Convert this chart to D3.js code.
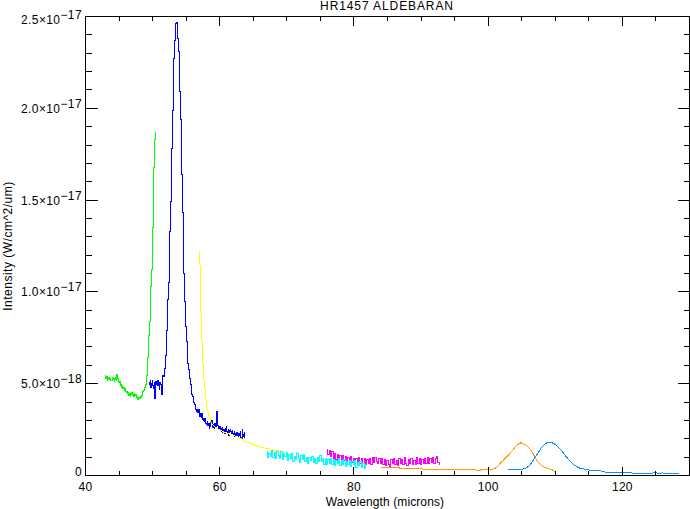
<!DOCTYPE html>
<html>
<head>
<meta charset="utf-8">
<script src="https://cdn.jsdelivr.net/npm/d3@7"></script>
<style>
  html, body { margin: 0; padding: 0; background: #fff; }
  svg { display: block; }
  text { font-family: "Liberation Sans", Arial, sans-serif; font-size: 12px; fill: #000; }
</style>
</head>
<body>
<svg id="chart" width="690" height="509"></svg>
<script>
// ---- data (wavelength in microns, intensity in units of 1e-18 W/cm^2/um) ----
const UNIT = 1e-18;
const title = "HR1457  ALDEBARAN";
const xTitle = "Wavelength (microns)";
const yTitle = "Intensity (W/cm^2/um)";

const xMajorTicks = [40, 60, 80, 100, 120];
const xMinorTicks = [45, 50, 55, 65, 70, 75, 85, 90, 95, 105, 110, 115, 125];
const yMajorTicks = [0, 5, 10, 15, 20, 25];
const yMajorLabels = [["0", ""], ["5.0\u00d710", "\u221218"], ["1.0\u00d710", "\u221217"], ["1.5\u00d710", "\u221217"], ["2.0\u00d710", "\u221217"], ["2.5\u00d710", "\u221217"]];
const yMinorTicks = [1,2,3,4,6,7,8,9,11,12,13,14,16,17,18,19,21,22,23,24];

const seriesColors = ["#00ff00", "#0000ff", "#ffff00", "#ff00ff", "#00ffff", "#0096ff", "#ff9c00"];
const seriesStepped = [true, true, false, true, true, false, false];

const green = [[42.9,5.30],[43.0,5.42],[43.1,5.28],[43.2,5.41],[43.3,5.20],[43.4,5.25],[43.5,5.36],[43.6,5.22],[43.7,5.31],[43.8,5.15],[43.9,5.19],[44.0,5.33],[44.1,5.22],[44.2,5.28],[44.3,5.12],[44.4,5.25],[44.5,5.34],[44.6,5.18],[44.7,5.48],[44.8,5.30],[44.9,5.22],[45.0,5.05],[45.1,5.10],[45.2,4.92],[45.3,4.97],[45.4,4.82],[45.5,4.90],[45.6,4.74],[45.7,4.78],[45.8,4.65],[45.9,4.72],[46.0,4.60],[46.1,4.52],[46.2,4.58],[46.3,4.45],[46.4,4.50],[46.5,4.38],[46.6,4.46],[46.7,4.33],[46.8,4.40],[46.9,4.52],[47.0,4.35],[47.1,4.42],[47.2,4.30],[47.3,4.45],[47.4,4.38],[47.5,4.43],[47.6,4.25],[47.7,4.30],[47.8,4.16],[47.9,4.20],[48.0,4.27],[48.1,4.18],[48.2,4.30],[48.3,4.25],[48.4,4.36],[48.5,4.45],[48.6,4.55],[48.7,4.62],[48.8,4.72],[48.9,4.82],[49.0,4.98],[49.1,5.18],[49.2,5.45],[49.25,5.75],[49.35,6.4],[49.5,7.6],[49.6,8.4],[49.7,9.3],[49.8,10.3],[49.9,11.2],[50.0,12.6],[50.05,13.5],[50.1,14.7],[50.15,15.7],[50.22,16.8],[50.3,18.0],[50.4,18.3],[50.5,18.7]];

const blue = [[49.55,5.08],[49.6,4.95],[49.7,5.15],[49.8,4.80],[49.9,5.02],[50.0,5.18],[50.1,4.88],[50.2,4.72],[50.3,5.05],[50.4,4.18],[50.45,4.85],[50.55,5.10],[50.65,4.95],[50.75,4.88],[50.85,5.15],[50.95,4.92],[51.05,4.70],[51.15,5.05],[51.25,4.98],[51.35,4.40],[51.45,5.30],[51.55,5.45],[51.65,5.38],[51.75,5.60],[51.85,5.85],[51.95,6.2],[52.02,6.55],[52.1,7.9],[52.2,8.9],[52.3,9.6],[52.4,10.5],[52.5,11.9],[52.6,13.3],[52.7,14.9],[52.8,16.3],[52.9,17.8],[53.0,19.9],[53.1,21.4],[53.2,22.7],[53.3,23.7],[53.4,24.2],[53.5,24.6],[53.6,24.7],[53.7,24.6],[53.8,23.8],[53.9,23.1],[54.0,22.3],[54.1,20.9],[54.2,19.4],[54.3,17.9],[54.4,16.4],[54.5,14.3],[54.6,12.6],[54.7,11.0],[54.8,9.5],[54.9,8.7],[55.0,8.1],[55.1,7.3],[55.2,6.6],[55.3,6.1],[55.4,5.8],[55.5,5.4],[55.6,5.3],[55.7,4.95],[55.8,4.7],[55.9,4.4],[56.0,4.3],[56.1,4.1],[56.2,3.95],[56.3,3.85],[56.4,3.70],[56.5,3.62],[56.6,3.50],[56.7,3.58],[56.8,3.45],[56.9,3.62],[57.0,3.30],[57.1,3.22],[57.2,3.40],[57.3,3.18],[57.4,3.35],[57.5,3.05],[57.6,2.98],[57.7,3.12],[57.8,2.95],[57.9,3.10],[58.0,2.85],[58.1,2.78],[58.2,2.95],[58.3,2.70],[58.4,2.82],[58.5,2.55],[58.6,2.66],[58.7,2.90],[58.8,3.02],[58.9,2.70],[59.0,2.62],[59.1,2.80],[59.2,2.58],[59.3,2.85],[59.4,2.60],[59.5,2.75],[59.6,3.48],[59.7,2.70],[59.8,2.62],[59.9,2.55],[60.0,2.68],[60.1,2.45],[60.2,2.58],[60.3,2.40],[60.4,2.62],[60.5,2.36],[60.6,2.50],[60.7,2.42],[60.8,2.30],[60.9,2.55],[61.0,2.65],[61.1,2.40],[61.2,2.32],[61.3,2.48],[61.4,2.20],[61.5,2.45],[61.6,2.52],[61.7,2.38],[61.8,2.26],[61.9,2.45],[62.0,2.30],[62.1,2.22],[62.2,2.40],[62.3,2.15],[62.4,2.28],[62.5,2.10],[62.6,2.35],[62.7,2.18],[62.8,2.08],[62.9,2.30],[63.0,2.20],[63.1,2.42],[63.2,2.05],[63.3,2.00],[63.4,2.48],[63.5,2.25],[63.6,2.10],[63.7,2.32],[63.8,2.05]];

const yellow = [[57.0,12.25],[57.1,11.0],[57.15,10.0],[57.2,9.0],[57.3,8.0],[57.35,7.4],[57.45,6.5],[57.55,5.8],[57.65,5.3],[57.75,5.0],[57.85,4.6],[57.95,4.2],[58.05,3.85],[58.2,3.55],[58.35,3.25],[58.5,3.1],[58.65,2.95],[58.85,2.82],[59.0,2.75],[59.2,2.66],[59.4,2.62],[59.6,2.55],[59.8,2.52],[60.0,2.46],[60.3,2.43],[60.6,2.36],[60.8,2.34],[61.1,2.29],[61.3,2.28],[61.6,2.24],[61.8,2.23],[62.1,2.18],[62.3,2.15],[62.6,2.09],[62.8,2.06],[63.0,2.03],[63.3,1.98],[63.5,1.91],[63.7,1.87],[64.0,1.83],[64.3,1.78],[64.5,1.77],[64.8,1.74],[65.0,1.69],[65.3,1.64],[65.5,1.63],[65.8,1.58],[66.0,1.56],[66.3,1.52],[66.5,1.52],[66.8,1.49],[67.0,1.48],[67.3,1.45],[67.5,1.44],[67.8,1.42],[68.0,1.38],[68.3,1.37],[68.5,1.36],[68.8,1.34],[69.0,1.34],[69.3,1.31],[69.5,1.28],[69.8,1.20]];

const magenta = [[76.0,1.42],[76.2,1.15],[76.4,1.35],[76.6,1.02],[76.8,1.28],[77.0,0.95],[77.2,1.20],[77.4,0.88],[77.6,1.15],[77.8,0.86],[78.0,1.10],[78.2,0.78],[78.4,1.08],[78.6,0.82],[78.8,1.02],[79.0,0.72],[79.2,1.00],[79.4,0.78],[79.6,1.04],[79.8,0.70],[80.0,0.95],[80.2,0.66],[80.4,0.92],[80.6,0.74],[80.8,1.00],[81.0,0.64],[81.2,0.90],[81.4,0.68],[81.6,0.95],[81.8,0.62],[82.0,0.88],[82.2,0.66],[82.4,0.92],[82.6,0.60],[82.8,0.96],[83.0,0.70],[83.2,0.98],[83.4,0.74],[83.6,0.64],[83.8,0.94],[84.0,0.66],[84.2,0.90],[84.4,0.62],[84.6,0.88],[84.8,0.54],[85.0,0.84],[85.2,0.60],[85.4,0.50],[85.6,0.86],[85.8,0.64],[86.0,0.90],[86.2,0.58],[86.4,0.84],[86.6,0.56],[86.8,0.94],[87.0,0.66],[87.2,0.88],[87.4,0.60],[87.6,0.96],[87.8,0.68],[88.0,0.56],[88.2,0.86],[88.4,0.64],[88.6,0.92],[88.8,0.58],[89.0,0.84],[89.2,0.62],[89.4,0.96],[89.6,0.66],[89.8,0.90],[90.0,0.58],[90.2,0.86],[90.4,0.64],[90.6,0.94],[90.8,0.68],[91.0,0.98],[91.2,0.64],[91.4,0.90],[91.6,0.70],[91.8,1.00],[92.0,0.66],[92.2,0.94],[92.4,1.04],[92.6,0.72],[92.8,0.60]];

const cyan = [[67.0,1.30],[67.2,0.98],[67.4,1.22],[67.6,1.05],[67.8,1.38],[68.0,1.00],[68.2,1.25],[68.4,0.92],[68.6,1.30],[68.8,1.10],[69.0,0.95],[69.2,1.28],[69.4,0.88],[69.6,1.18],[69.8,1.05],[70.0,1.25],[70.2,0.82],[70.4,1.12],[70.6,0.95],[70.8,1.22],[71.0,0.78],[71.2,1.05],[71.4,0.88],[71.6,1.18],[71.8,0.92],[72.0,0.70],[72.2,1.08],[72.4,0.85],[72.6,1.12],[72.8,0.75],[73.0,1.00],[73.2,0.68],[73.4,0.98],[73.6,0.80],[73.8,1.05],[74.0,0.72],[74.2,0.92],[74.4,0.65],[74.6,1.00],[74.8,0.78],[75.0,1.08],[75.2,0.74],[75.4,0.95],[75.6,0.62],[75.8,0.90],[76.0,0.58],[76.2,0.88],[76.4,0.68],[76.6,0.95],[76.8,0.60],[77.0,0.85],[77.2,0.55],[77.4,0.82],[77.6,0.66],[77.8,0.90],[78.0,0.52],[78.2,0.80],[78.4,0.62],[78.6,0.86],[78.8,0.50],[79.0,0.76],[79.2,0.60],[79.4,0.84],[79.6,0.48],[79.8,0.74],[80.0,0.58],[80.2,0.80],[80.4,0.45],[80.6,0.72],[80.8,0.54],[81.0,0.78],[81.2,0.44],[81.4,0.66],[81.6,0.36],[81.8,0.60]];

const orange = [[84.05,0.45],[84.5,0.44],[85.0,0.42],[85.5,0.43],[86.0,0.41],[86.5,0.42],[87.0,0.40],[87.5,0.41],[88.0,0.38],[88.5,0.39],[89.0,0.37],[89.5,0.36],[90.0,0.36],[90.5,0.35],[91.0,0.34],[91.5,0.34],[92.0,0.33],[93.0,0.33],[94.0,0.33],[95.0,0.32],[96.0,0.33],[97.0,0.33],[97.5,0.30],[98.0,0.32],[98.5,0.27],[99.0,0.31],[99.5,0.30],[100.0,0.30],[100.5,0.33],[101.0,0.38],[101.4,0.50],[101.8,0.66],[102.2,0.80],[102.6,0.95],[103.0,1.10],[103.4,1.27],[103.8,1.45],[104.2,1.62],[104.6,1.74],[104.9,1.78],[105.2,1.72],[105.6,1.66],[106.0,1.54],[106.4,1.38],[106.7,1.18],[107.0,0.98],[107.3,0.78],[107.7,0.62],[108.0,0.52],[108.4,0.44],[108.8,0.40],[109.2,0.36],[109.6,0.30],[110.0,0.20]];

const lightBlue = [[103.0,0.33],[103.5,0.33],[104.0,0.33],[104.5,0.34],[105.0,0.34],[105.5,0.38],[106.0,0.49],[106.4,0.65],[106.8,0.88],[107.2,1.10],[107.6,1.32],[108.0,1.55],[108.4,1.70],[108.8,1.79],[109.2,1.82],[109.6,1.77],[110.0,1.69],[110.4,1.57],[110.8,1.42],[111.2,1.22],[111.6,1.04],[112.0,0.86],[112.4,0.70],[112.8,0.58],[113.2,0.48],[113.6,0.41],[114.0,0.37],[114.5,0.34],[115.0,0.30],[115.5,0.27],[116.0,0.26],[116.5,0.25],[117.0,0.24],[117.5,0.18],[118.0,0.17],[119.0,0.16],[120.0,0.15],[121.0,0.14],[122.0,0.13],[123.0,0.13],[124.0,0.13],[125.0,0.14],[125.5,0.12],[126.0,0.14],[126.5,0.11],[127.0,0.13],[127.5,0.10],[128.0,0.12],[128.5,0.09]];

const seriesList = [green, blue, yellow, magenta, cyan, lightBlue, orange];

// ---- drawing ----
const svg = d3.select("#chart");
const x = d3.scaleLinear().domain([40, 130]).range([85.5, 689.5]);
const y = d3.scaleLinear().domain([0, 25 * UNIT]).range([475.5, 16.5]);

const lineStep = d3.line().x(d => x(d[0])).y(d => y(d[1] * UNIT)).curve(d3.curveStep);
const lineLin = d3.line().x(d => x(d[0])).y(d => y(d[1] * UNIT));

const plot = svg.append("g");
seriesList.forEach((s, i) => {
  plot.append("path")
    .datum(s)
    .attr("d", seriesStepped[i] ? lineStep : lineLin)
    .attr("fill", "none")
    .attr("stroke", seriesColors[i])
    .attr("stroke-width", 1)
    .attr("shape-rendering", "crispEdges");
});

const axes = svg.append("g").attr("stroke", "#000").attr("stroke-width", 1).attr("shape-rendering", "crispEdges");
const [x0, x1] = x.range();
const [yb, yt] = y.range();
axes.append("rect").attr("x", x0).attr("y", yt).attr("width", x1 - x0).attr("height", yb - yt).attr("fill", "none");

const xMajLen = 9, xMinLen = 4.5, yMajLen = 12, yMinLen = 6;
function xTicks(vals, len) {
  vals.forEach(v => {
    const px = Math.round(x(v) - 0.5) + 0.5;
    axes.append("line").attr("x1", px).attr("x2", px).attr("y1", yb).attr("y2", yb - len);
    axes.append("line").attr("x1", px).attr("x2", px).attr("y1", yt).attr("y2", yt + len);
  });
}
function yTicks(vals, len) {
  vals.forEach(v => {
    const py = Math.round(y(v * UNIT) - 0.5) + 0.5;
    axes.append("line").attr("y1", py).attr("y2", py).attr("x1", x0).attr("x2", x0 + len);
    axes.append("line").attr("y1", py).attr("y2", py).attr("x1", x1).attr("x2", x1 - len);
  });
}
xTicks(xMajorTicks, xMajLen);
xTicks(xMinorTicks, xMinLen);
yTicks(yMajorTicks, yMajLen);
yTicks(yMinorTicks, yMinLen);

// x tick labels
svg.append("g").selectAll("text").data(xMajorTicks).join("text")
  .attr("x", d => x(d)).attr("y", 491)
  .attr("text-anchor", "middle")
  .attr("letter-spacing", "0.3px")
  .text(d => d);

// y tick labels
yMajorTicks.forEach((v, i) => {
  const py = y(v * UNIT);
  const lab = yMajorLabels[i];
  let base = py + 4.5;
  if (i === yMajorTicks.length - 1) base = 24;
  if (i === 0) base = 476;
  const t = svg.append("text").attr("x", 82).attr("y", base).attr("text-anchor", "end").attr("letter-spacing", "0.4px");
  t.append("tspan").text(lab[0]);
  if (lab[1]) t.append("tspan").attr("dy", -5).text(lab[1]);
});

// titles
svg.append("text").attr("x", 387).attr("y", 10).attr("text-anchor", "middle").attr("letter-spacing", "0.9px").text(title);
svg.append("text").attr("x", 385).attr("y", 505.5).attr("text-anchor", "middle").attr("letter-spacing", "0.1px").text(xTitle);
svg.append("text").attr("transform", "translate(12,246) rotate(-90)").attr("text-anchor", "middle").attr("letter-spacing", "0.5px").text(yTitle);
</script>
</body>
</html>
